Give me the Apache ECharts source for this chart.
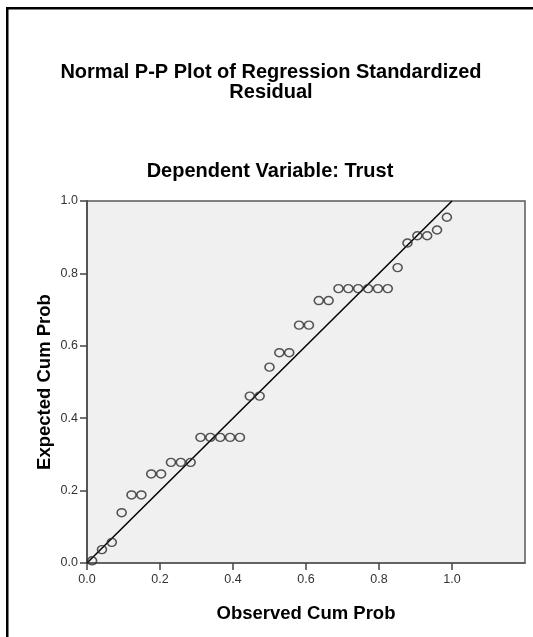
<!DOCTYPE html>
<html>
<head>
<meta charset="utf-8">
<script src="https://cdn.jsdelivr.net/npm/echarts@6/dist/echarts.min.js"></script>
<style>
  html, body { margin: 0; padding: 0; background: #fff; }
  #chart { width: 533px; height: 637px; }
</style>
</head>
<body>
<div id="chart"></div>
<script>
// Observed cumulative probability (x) and expected cumulative probability (y)
const observedCumProb = [0.014, 0.041, 0.068, 0.095, 0.122, 0.149, 0.176, 0.203, 0.230, 0.257,
  0.284, 0.311, 0.338, 0.365, 0.392, 0.419, 0.446, 0.473, 0.500, 0.527,
  0.554, 0.581, 0.608, 0.635, 0.662, 0.689, 0.716, 0.743, 0.770, 0.797,
  0.824, 0.851, 0.878, 0.905, 0.932, 0.959, 0.986];
const expectedCumProb = [0.006, 0.037, 0.057, 0.139, 0.188, 0.188, 0.246, 0.246, 0.278, 0.278,
  0.278, 0.347, 0.347, 0.347, 0.347, 0.347, 0.461, 0.461, 0.541, 0.581,
  0.581, 0.657, 0.657, 0.725, 0.725, 0.758, 0.758, 0.758, 0.758, 0.758,
  0.758, 0.816, 0.884, 0.904, 0.904, 0.920, 0.955];
const diagonalLine = [[0, 0], [1, 1]];
const xTickValues = [0, 0.2, 0.4, 0.6, 0.8, 1.0];
const yTickValues = [0, 0.2, 0.4, 0.6, 0.8, 1.0];

const chartTitle = 'Normal P-P Plot of Regression Standardized\nResidual';
const chartSubtitle = 'Dependent Variable: Trust';
const xAxisName = 'Observed Cum Prob';
const yAxisName = 'Expected Cum Prob';

const points = observedCumProb.map((x, i) => [x, expectedCumProb[i]]);

const chart = echarts.init(document.getElementById('chart'), null, { renderer: 'canvas' });
const FONT = '"Liberation Sans", Arial, sans-serif';

chart.setOption({
  animation: false,
  backgroundColor: '#ffffff',
  title: [
    {
      text: chartTitle,
      left: 271, top: 62, textAlign: 'center', padding: 0,
      textStyle: { fontFamily: FONT, fontSize: 20, fontWeight: 'bold', color: '#000', lineHeight: 20 }
    },
    {
      text: chartSubtitle,
      left: 270, top: 161, textAlign: 'center', padding: 0,
      textStyle: { fontFamily: FONT, fontSize: 20, fontWeight: 'bold', color: '#000', lineHeight: 20 }
    }
  ],
  graphic: [
    { type: 'rect', shape: { x: 6, y: 7, width: 2.5, height: 630 }, style: { fill: '#000' } },
    { type: 'rect', shape: { x: 6, y: 7, width: 527, height: 2.5 }, style: { fill: '#000' } }
  ],
  grid: {
    left: 87, top: 201, right: 8, bottom: 74,
    show: true, backgroundColor: '#f0f0f0', borderColor: '#5a5a5a', borderWidth: 1.5
  },
  xAxis: {
    type: 'value', min: 0, max: 1.2, interval: 0.2,
    name: xAxisName, nameLocation: 'middle', nameGap: 41, nameMoveOverlap: false,
    nameTextStyle: { fontFamily: FONT, fontSize: 18.5, fontWeight: 'bold', color: '#000' },
    axisLine: { show: true, onZero: false, lineStyle: { color: '#5a5a5a', width: 1.5 } },
    axisTick: { show: true, length: 7, customValues: xTickValues, lineStyle: { color: '#444', width: 1.5 } },
    axisLabel: {
      customValues: xTickValues, margin: 10,
      fontFamily: FONT, fontSize: 12.5, color: '#333',
      formatter: v => v.toFixed(1)
    },
    splitLine: { show: false }
  },
  yAxis: {
    type: 'value', min: 0, max: 1, interval: 0.2,
    name: yAxisName, nameLocation: 'middle', nameGap: 33, nameMoveOverlap: false,
    nameTextStyle: { fontFamily: FONT, fontSize: 18.5, fontWeight: 'bold', color: '#000' },
    axisLine: { show: true, onZero: false, lineStyle: { color: '#555', width: 2 } },
    axisTick: { show: true, length: 7, customValues: yTickValues, lineStyle: { color: '#444', width: 1.5 } },
    axisLabel: {
      customValues: yTickValues, margin: 9,
      fontFamily: FONT, fontSize: 12.5, color: '#333',
      formatter: v => v.toFixed(1)
    },
    splitLine: { show: false }
  },
  series: [
    {
      type: 'line',
      data: diagonalLine,
      symbol: 'none',
      lineStyle: { color: '#000', width: 1.5 },
      silent: true,
      z: 2
    },
    {
      type: 'scatter',
      data: points,
      symbol: 'circle',
      symbolSize: [9, 8],
      itemStyle: { color: 'rgba(0,0,0,0)', borderColor: '#2a2a2a', borderWidth: 1.5 },
      z: 3
    }
  ]
});
</script>
</body>
</html>
